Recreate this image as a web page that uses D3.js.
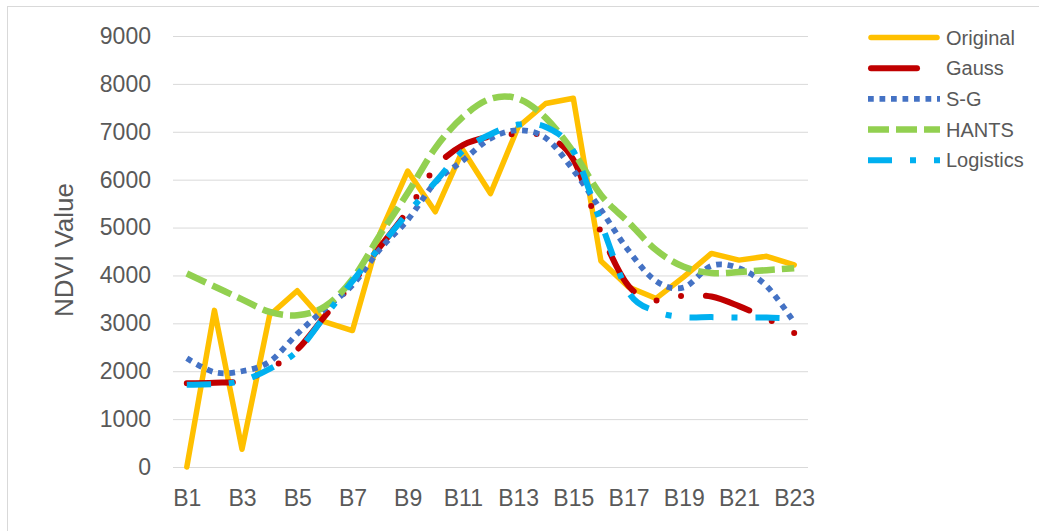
<!DOCTYPE html>
<html>
<head>
<meta charset="utf-8">
<script src="https://cdn.jsdelivr.net/npm/d3@7"></script>
<style>
  body { margin: 0; background: #fff; }
  svg { display: block; font-family: "Liberation Sans", Arial, sans-serif; }
  .grid line { stroke: #d9d9d9; stroke-width: 1; }
  .tick text { fill: #595959; }
</style>
</head>
<body>
<svg width="1039" height="531"></svg>
<script>
/* --------------- datos --------------- */
const bandas = ["B1","B2","B3","B4","B5","B6","B7","B8","B9","B10","B11","B12",
                "B13","B14","B15","B16","B17","B18","B19","B20","B21","B22","B23"];
const original = [0, 3270, 370, 3170, 3680, 3030, 2850, 4880, 6180, 5330, 6620, 5710,
                  7100, 7590, 7700, 4300, 3760, 3520, 3970, 4460, 4320, 4400, 4220];
const gauss = [1750, 1760, 1800, 2050, 2450, 3150, 3850, 4600, 5350, 6250, 6720, 6900,
               6950, 6900, 6420, 4900, 3780, 3480, 3580, 3560, 3360, 3100, 2800];
const sg = [2270, 1980, 2000, 2200, 2780, 3300, 3800, 4550, 5160, 5940, 6400, 6860,
            7030, 6870, 6200, 5370, 4520, 3880, 3750, 4200, 4150, 3780, 3020];
const hants = [4040, 3770, 3500, 3240, 3170, 3350, 3920, 4850, 5720, 6660, 7310, 7690,
               7690, 7290, 6580, 5680, 5110, 4530, 4180, 4050, 4070, 4110, 4150];
const logistics = [1720, 1730, 1800, 2050, 2420, 3150, 3880, 4600, 5300, 5950, 6600, 6950,
                   7150, 7100, 6600, 5100, 3650, 3250, 3130, 3130, 3120, 3120, 3100];
const yTicks = [0, 1000, 2000, 3000, 4000, 5000, 6000, 7000, 8000, 9000];
const xTicks = bandas.filter((d, i) => i % 2 === 0);

const series = [
  { name: "Original",  values: original,  color: "#FFC000", width: 5.5, dash: null, cap: "round", smooth: false },
  { name: "Gauss",     values: gauss,     color: "#C00000", width: 6, dash: "46 25 0 25 0 25", cap: "round", smooth: true },
  { name: "S-G",       values: sg,        color: "#4472C4", width: 5.75, dash: "5.75 5.75", cap: "butt", smooth: true },
  { name: "HANTS",     values: hants,     color: "#92D050", width: 6.5, dash: "21 7", cap: "butt", smooth: true },
  { name: "Logistics", values: logistics, color: "#00B0F0", width: 6, dash: "24 18 6 18", cap: "butt", smooth: true }
];

const svg = d3.select("svg");

// marco del grafico
svg.append("rect")
  .attr("x", 7.5).attr("y", 6.5)
  .attr("width", 1040).attr("height", 530)
  .attr("fill", "none")
  .attr("stroke", "#d9d9d9")
  .attr("stroke-width", 1);

const x = d3.scalePoint().domain(bandas).range([173, 808]).padding(0.5);
const y = d3.scaleLinear().domain([0, 9000]).range([467, 36]);

// eje Y + lineas de cuadricula
const yAxis = svg.append("g")
  .attr("class", "grid")
  .attr("transform", "translate(173,0)")
  .call(d3.axisLeft(y).tickValues(yTicks).tickFormat(d3.format("d"))
    .tickSizeInner(-635).tickSizeOuter(0).tickPadding(22));
yAxis.select(".domain").remove();
yAxis.selectAll("text").style("font-size", "23px");

// eje X
const xAxis = svg.append("g")
  .attr("transform", "translate(0,467)")
  .call(d3.axisBottom(x).tickValues(xTicks).tickSize(0).tickPadding(23));
xAxis.select(".domain").remove();
xAxis.selectAll("text").style("font-size", "23px");

// titulo eje Y
svg.append("text")
  .attr("transform", "translate(73,250) rotate(-90)")
  .attr("text-anchor", "middle")
  .attr("fill", "#595959")
  .style("font-size", "26px")
  .text("NDVI Value");

// series
series.forEach(s => {
  const line = d3.line()
    .x((d, i) => x(bandas[i]))
    .y(d => y(d))
    .curve(s.smooth ? d3.curveCardinal.tension(0) : d3.curveLinear);
  svg.append("path")
    .datum(s.values)
    .attr("fill", "none")
    .attr("stroke", s.color)
    .attr("stroke-width", s.width)
    .attr("stroke-linejoin", "round")
    .attr("stroke-linecap", s.cap)
    .attr("stroke-dasharray", s.dash)
    .attr("d", line);
});

// leyenda
const legend = svg.selectAll(".legend")
  .data(series)
  .enter().append("g")
  .attr("class", "legend")
  .attr("transform", (d, i) => `translate(868,${37.5 + i * 30.7})`);

legend.append("line")
  .attr("x1", d => d.cap === "round" ? 3 : 0)
  .attr("x2", d => d.cap === "round" ? 69 : 72)
  .attr("stroke", d => d.color)
  .attr("stroke-width", d => d.width)
  .attr("stroke-linecap", d => d.cap)
  .attr("stroke-dasharray", d => d.dash);

legend.append("text")
  .attr("x", 78)
  .attr("dy", "0.35em")
  .attr("fill", "#595959")
  .style("font-size", "20px")
  .text(d => d.name);
</script>
</body>
</html>
